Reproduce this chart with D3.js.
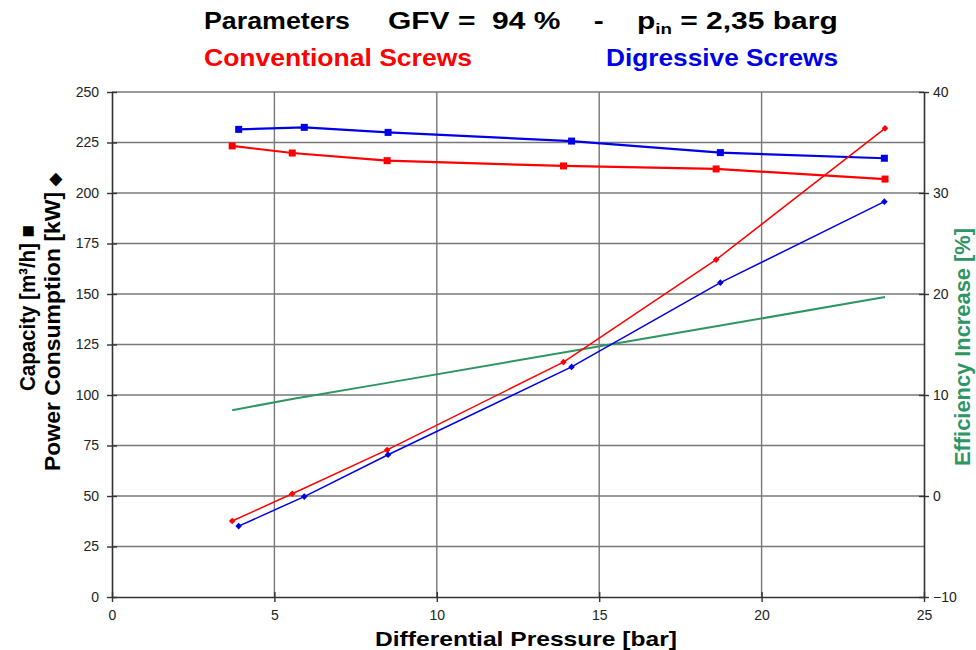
<!DOCTYPE html>
<html>
<head>
<meta charset="utf-8">
<script src="https://cdn.jsdelivr.net/npm/d3@7"></script>
<style>
  html, body { margin: 0; padding: 0; background: #fff; }
  svg { display: block; font-family: Arial, "Liberation Sans", sans-serif; }
</style>
</head>
<body>
<svg id="chart" width="976" height="650"></svg>
<script>
// Differential pressure [bar] at each measured point
const convPressure = [3.7, 5.55, 8.47, 13.9, 18.6, 23.8];
const digPressure  = [3.9, 5.92, 8.5, 14.15, 18.73, 23.78];

// Capacity [m³/h]
const convCapacity = [223.3, 219.8, 216.0, 213.4, 211.9, 206.9];
const digCapacity  = [231.5, 232.5, 230.0, 225.7, 220.0, 217.2];

// Power consumption [kW]
const convPower = [37.6, 51.1, 72.8, 116.3, 167.0, 232.0];
const digPower  = [35.1, 49.7, 70.4, 113.9, 155.6, 195.7];

// Efficiency increase [%] (right axis)
const effPressure = [3.7, 5.55, 8.47, 13.9, 18.6, 23.8];
const efficiency  = [8.5, 9.6, 11.2, 14.2, 16.8, 19.7];

// Axis ticks
const xTicks = [0, 5, 10, 15, 20, 25];
const yLeftTicks = [0, 25, 50, 75, 100, 125, 150, 175, 200, 225, 250];
const yRightTicks = [-10, 0, 10, 20, 30, 40];

const RED = "#ff0000", BLUE = "#0000e6", GREEN = "#2e9663";

const svg = d3.select("#chart");
const plot = { left: 112, right: 924, top: 92, bottom: 597 };

const x = d3.scaleLinear().domain([0, 25]).range([plot.left, plot.right]);
const yL = d3.scaleLinear().domain([0, 250]).range([plot.bottom, plot.top]);
const yR = d3.scaleLinear().domain([-10, 40]).range([plot.bottom, plot.top]);

// Grid
const grid = svg.append("g").attr("stroke", "#787878").attr("stroke-width", 1.4);
grid.selectAll("line.h").data(yLeftTicks.slice(1)).join("line")
  .attr("x1", plot.left).attr("x2", plot.right)
  .attr("y1", d => yL(d)).attr("y2", d => yL(d));
grid.selectAll("line.v").data(xTicks.slice(1, -1)).join("line")
  .attr("y1", plot.top).attr("y2", plot.bottom)
  .attr("x1", d => x(d)).attr("x2", d => x(d));

// Axes (ticks crossing the axis lines)
function styleAxis(g) {
  g.select(".domain").attr("stroke", "#333").attr("stroke-width", 1.6);
  g.selectAll(".tick line").attr("stroke", "#333").attr("stroke-width", 1.4);
  g.selectAll(".tick text").attr("fill", "#222").attr("font-size", 14)
    .attr("font-family", "Arial, 'Liberation Sans', sans-serif");
}

const xAxis = svg.append("g").attr("transform", `translate(0,${plot.bottom})`)
  .call(d3.axisBottom(x).tickValues(xTicks).tickSizeInner(5).tickSizeOuter(0).tickPadding(8));
xAxis.selectAll(".tick line").attr("y1", -5);
styleAxis(xAxis);

const yAxisL = svg.append("g").attr("transform", `translate(${plot.left},0)`)
  .call(d3.axisLeft(yL).tickValues(yLeftTicks).tickSizeInner(5).tickSizeOuter(0).tickPadding(8));
yAxisL.selectAll(".tick line").attr("x1", 5);
styleAxis(yAxisL);

const yAxisR = svg.append("g").attr("transform", `translate(${plot.right},0)`)
  .call(d3.axisRight(yR).tickValues(yRightTicks).tickSizeInner(5).tickSizeOuter(0).tickPadding(4));
yAxisR.selectAll(".tick line").attr("x1", -5);
styleAxis(yAxisR);

// Series
function zip(xs, ys) { return xs.map((v, i) => [v, ys[i]]); }

function drawLine(data, yScale, color, width) {
  svg.append("path").datum(data)
    .attr("fill", "none").attr("stroke", color).attr("stroke-width", width)
    .attr("stroke-linejoin", "round")
    .attr("d", d3.line().x(d => x(d[0])).y(d => yScale(d[1])));
}
function drawSquares(data, color) {
  svg.append("g").selectAll("rect").data(data).join("rect")
    .attr("x", d => x(d[0]) - 3.5).attr("y", d => yL(d[1]) - 3.5)
    .attr("width", 7).attr("height", 7).attr("fill", color);
}
function drawDiamonds(data, color) {
  const sym = d3.symbol().type(d3.symbolDiamond2).size(28);
  svg.append("g").selectAll("path").data(data).join("path")
    .attr("transform", d => `translate(${x(d[0])},${yL(d[1])})`)
    .attr("d", sym).attr("fill", color);
}

const effData = zip(effPressure, efficiency);
drawLine(effData, yR, GREEN, 2);

const convCap = zip(convPressure, convCapacity);
const digCap = zip(digPressure, digCapacity);
const convPow = zip(convPressure, convPower);
const digPow = zip(digPressure, digPower);

drawLine(convCap, yL, RED, 2.2);
drawSquares(convCap, RED);
drawLine(digCap, yL, BLUE, 2.2);
drawSquares(digCap, BLUE);
drawLine(convPow, yL, RED, 1.5);
drawDiamonds(convPow, RED);
drawLine(digPow, yL, BLUE, 1.5);
drawDiamonds(digPow, BLUE);

// Headings
const head = svg.append("g").attr("font-weight", "bold").attr("font-size", 24);
head.append("text").attr("x", 204).attr("y", 29).attr("fill", "#000")
  .attr("textLength", 146).attr("lengthAdjust", "spacingAndGlyphs").text("Parameters");

// Parameter line, stretched horizontally to span its slot
const gfv = head.append("text").attr("x", 0).attr("y", 0).attr("fill", "#000")
  .attr("xml:space", "preserve");
gfv.append("tspan").text("GFV =  94 %    -    p");
gfv.append("tspan").attr("font-size", 15).attr("dy", 5).text("in");
gfv.append("tspan").attr("dy", -5).text(" = 2,35 barg");
const gfvWidth = gfv.node().getComputedTextLength();
gfv.attr("transform", `translate(388,29) scale(${450 / gfvWidth},1)`);

head.append("text").attr("x", 204).attr("y", 66).attr("fill", RED)
  .attr("textLength", 268).attr("lengthAdjust", "spacingAndGlyphs").text("Conventional Screws");
head.append("text").attr("x", 606).attr("y", 66).attr("fill", BLUE)
  .attr("textLength", 232).attr("lengthAdjust", "spacingAndGlyphs").text("Digressive Screws");

// Axis titles
svg.append("text").attr("x", 375).attr("y", 646).attr("font-weight", "bold")
  .attr("font-size", 21).attr("fill", "#000")
  .attr("textLength", 302).attr("lengthAdjust", "spacingAndGlyphs")
  .text("Differential Pressure [bar]");

const capTitle = svg.append("text").attr("transform", "translate(35,391) rotate(-90)")
  .attr("font-weight", "bold").attr("font-size", 22).attr("fill", "#000")
  .attr("textLength", 166).attr("lengthAdjust", "spacingAndGlyphs");
capTitle.append("tspan").text("Capacity [m³/h] ");
capTitle.append("tspan").attr("font-size", 22).text("■");

const powTitle = svg.append("text").attr("transform", "translate(60,471) rotate(-90)")
  .attr("font-weight", "bold").attr("font-size", 22).attr("fill", "#000")
  .attr("textLength", 298).attr("lengthAdjust", "spacingAndGlyphs");
powTitle.append("tspan").text("Power Consumption [kW] ");
powTitle.append("tspan").attr("font-size", 16).text("◆");

svg.append("text").attr("transform", "translate(970,466) rotate(-90)")
  .attr("font-weight", "bold").attr("font-size", 22).attr("fill", GREEN)
  .attr("textLength", 238).attr("lengthAdjust", "spacingAndGlyphs")
  .text("Efficiency Increase [%]");
</script>
</body>
</html>
